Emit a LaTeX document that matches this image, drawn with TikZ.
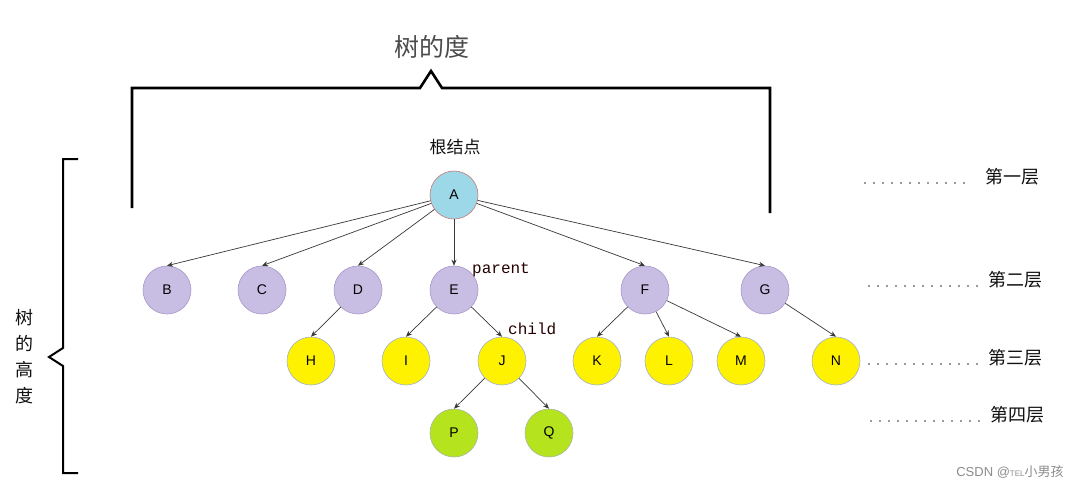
\documentclass[tikz,border=0pt]{standalone}
\usepackage{fontspec}
\setmainfont{Liberation Sans}
\newfontfamily\cjk{Noto Sans CJK SC}
\newfontfamily\monof{Liberation Mono}
\usetikzlibrary{arrows.meta}
\definecolor{rootfill}{HTML}{9DD8E8}
\definecolor{rootdraw}{HTML}{C87878}
\definecolor{purfill}{HTML}{C8BEE4}
\definecolor{purdraw}{HTML}{A898C8}
\definecolor{yelfill}{HTML}{FFF200}
\definecolor{yeldraw}{HTML}{A0B0D0}
\definecolor{grnfill}{HTML}{B5E31E}
\definecolor{grndraw}{HTML}{A8B8A0}
\definecolor{edgec}{HTML}{383838}
\definecolor{textc}{HTML}{111111}
\tikzset{
  tnode/.style={circle,minimum size=48pt,inner sep=0pt,font=\fontsize{14}{14}\selectfont,line width=0.6pt},
  rootn/.style={tnode,fill=rootfill,draw=rootdraw},
  purn/.style={tnode,fill=purfill,draw=purdraw},
  yeln/.style={tnode,fill=yelfill,draw=yeldraw},
  grnn/.style={tnode,fill=grnfill,draw=grndraw},
  tedge/.style={draw=edgec,line width=0.7pt,-{Stealth[length=6pt,width=5pt]}},
  brace/.style={line width=2.6pt,line join=miter},
  lvl/.style={font=\cjk\fontsize{18}{18}\selectfont,text=textc,inner sep=0pt,anchor=west},
  dotl/.style={line width=1.6pt,line cap=round,dash pattern=on 0pt off 9pt,draw=black!80},
  cjklabel/.style={font=\cjk\fontsize{17}{17}\selectfont,text=textc,inner sep=0pt},
  monolabel/.style={font=\monof\fontsize{16}{16}\selectfont,text=black!85!red,inner sep=0pt}
}
\begin{document}
\begin{tikzpicture}[x=1pt,y=-1pt]
\useasboundingbox[fill=white] (0,0) rectangle (1088,491);
% nodes
\node[rootn] (A) at (454,195) {A};
\node[purn] (B) at (167,290) {B};
\node[purn] (C) at (262,290) {C};
\node[purn] (D) at (358,290) {D};
\node[purn] (E) at (454,290) {E};
\node[purn] (F) at (645,290) {F};
\node[purn] (G) at (765,290) {G};
\node[yeln] (H) at (311,361) {H};
\node[yeln] (I) at (406,361) {I};
\node[yeln] (J) at (502,361) {J};
\node[yeln] (K) at (597,361) {K};
\node[yeln] (L) at (669,361) {L};
\node[yeln] (M) at (741,361) {M};
\node[yeln] (N) at (836,361) {N};
\node[grnn] (P) at (454,433) {P};
\node[grnn] (Q) at (549,433) {Q};
% edges
\foreach \c in {B,C,D,E,F,G} \draw[tedge] (A) -- (\c.north);
\draw[tedge] (D) -- (H.north);
\draw[tedge] (E) -- (I.north);
\draw[tedge] (E) -- (J.north);
\draw[tedge] (F) -- (K.north);
\draw[tedge] (F) -- (L.north);
\draw[tedge] (F) -- (M.north);
\draw[tedge] (G) -- (N.north);
\draw[tedge] (J) -- (P.north);
\draw[tedge] (J) -- (Q.north);
% labels
\node[font=\cjk\fontsize{25}{25}\selectfont,text=textc!75!white,inner sep=0pt] (deg) at (432,47) {树的度};
\node[cjklabel] (root) at (455,147) {根结点};
\node[monolabel,anchor=west] (par) at (472,270) {parent};
\node[monolabel,anchor=west] (chi) at (508,329) {child};
% top bracket
\coordinate (tb1) at (132,208);
\coordinate (tb2) at (132,88);
\coordinate (tb3) at (420,88);
\coordinate (tb4) at (431,71);
\coordinate (tb5) at (442,88);
\coordinate (tb6) at (770,88);
\coordinate (tb7) at (770,213);
\draw[brace] (tb1) -- (tb2) -- (tb3) -- (tb4) -- (tb5) -- (tb6) -- (tb7);
% left bracket
\coordinate (lb1) at (78,159);
\coordinate (lb2) at (63,159);
\coordinate (lb3) at (63,348);
\coordinate (lb4) at (49,357);
\coordinate (lb5) at (63,366);
\coordinate (lb6) at (63,473);
\coordinate (lb7) at (78,473);
\draw[line width=2pt] (lb1) -- (lb2) -- (lb3) -- (lb4) -- (lb5) -- (lb6) -- (lb7);
\node[font=\cjk\fontsize{18}{26}\selectfont,text=textc,align=center,inner sep=0pt] (height) at (25,357) {树\\的\\高\\度};
% levels
\node[lvl] (L1) at (985,177) {第一层};
\node[lvl] (L2) at (988,280) {第二层};
\node[lvl] (L3) at (988,358) {第三层};
\node[lvl] (L4) at (990,415) {第四层};
\coordinate (d1a) at (865,183); \coordinate (d1b) at (965,183);
\coordinate (d2a) at (869,286); \coordinate (d2b) at (980,286);
\coordinate (d3a) at (869,364); \coordinate (d3b) at (980,364);
\coordinate (d4a) at (871,421); \coordinate (d4b) at (982,421);
\draw[dotl] (d1a) -- (d1b);
\draw[dotl] (d2a) -- (d2b);
\draw[dotl] (d3a) -- (d3b);
\draw[dotl] (d4a) -- (d4b);
% watermark
\node[font=\fontsize{13}{13}\selectfont,text=black!45,inner sep=0pt] (wm) at (1010,472) {CSDN @{\fontsize{8}{8}\selectfont TEL}{\cjk 小男孩}};
\end{tikzpicture}
\end{document}
